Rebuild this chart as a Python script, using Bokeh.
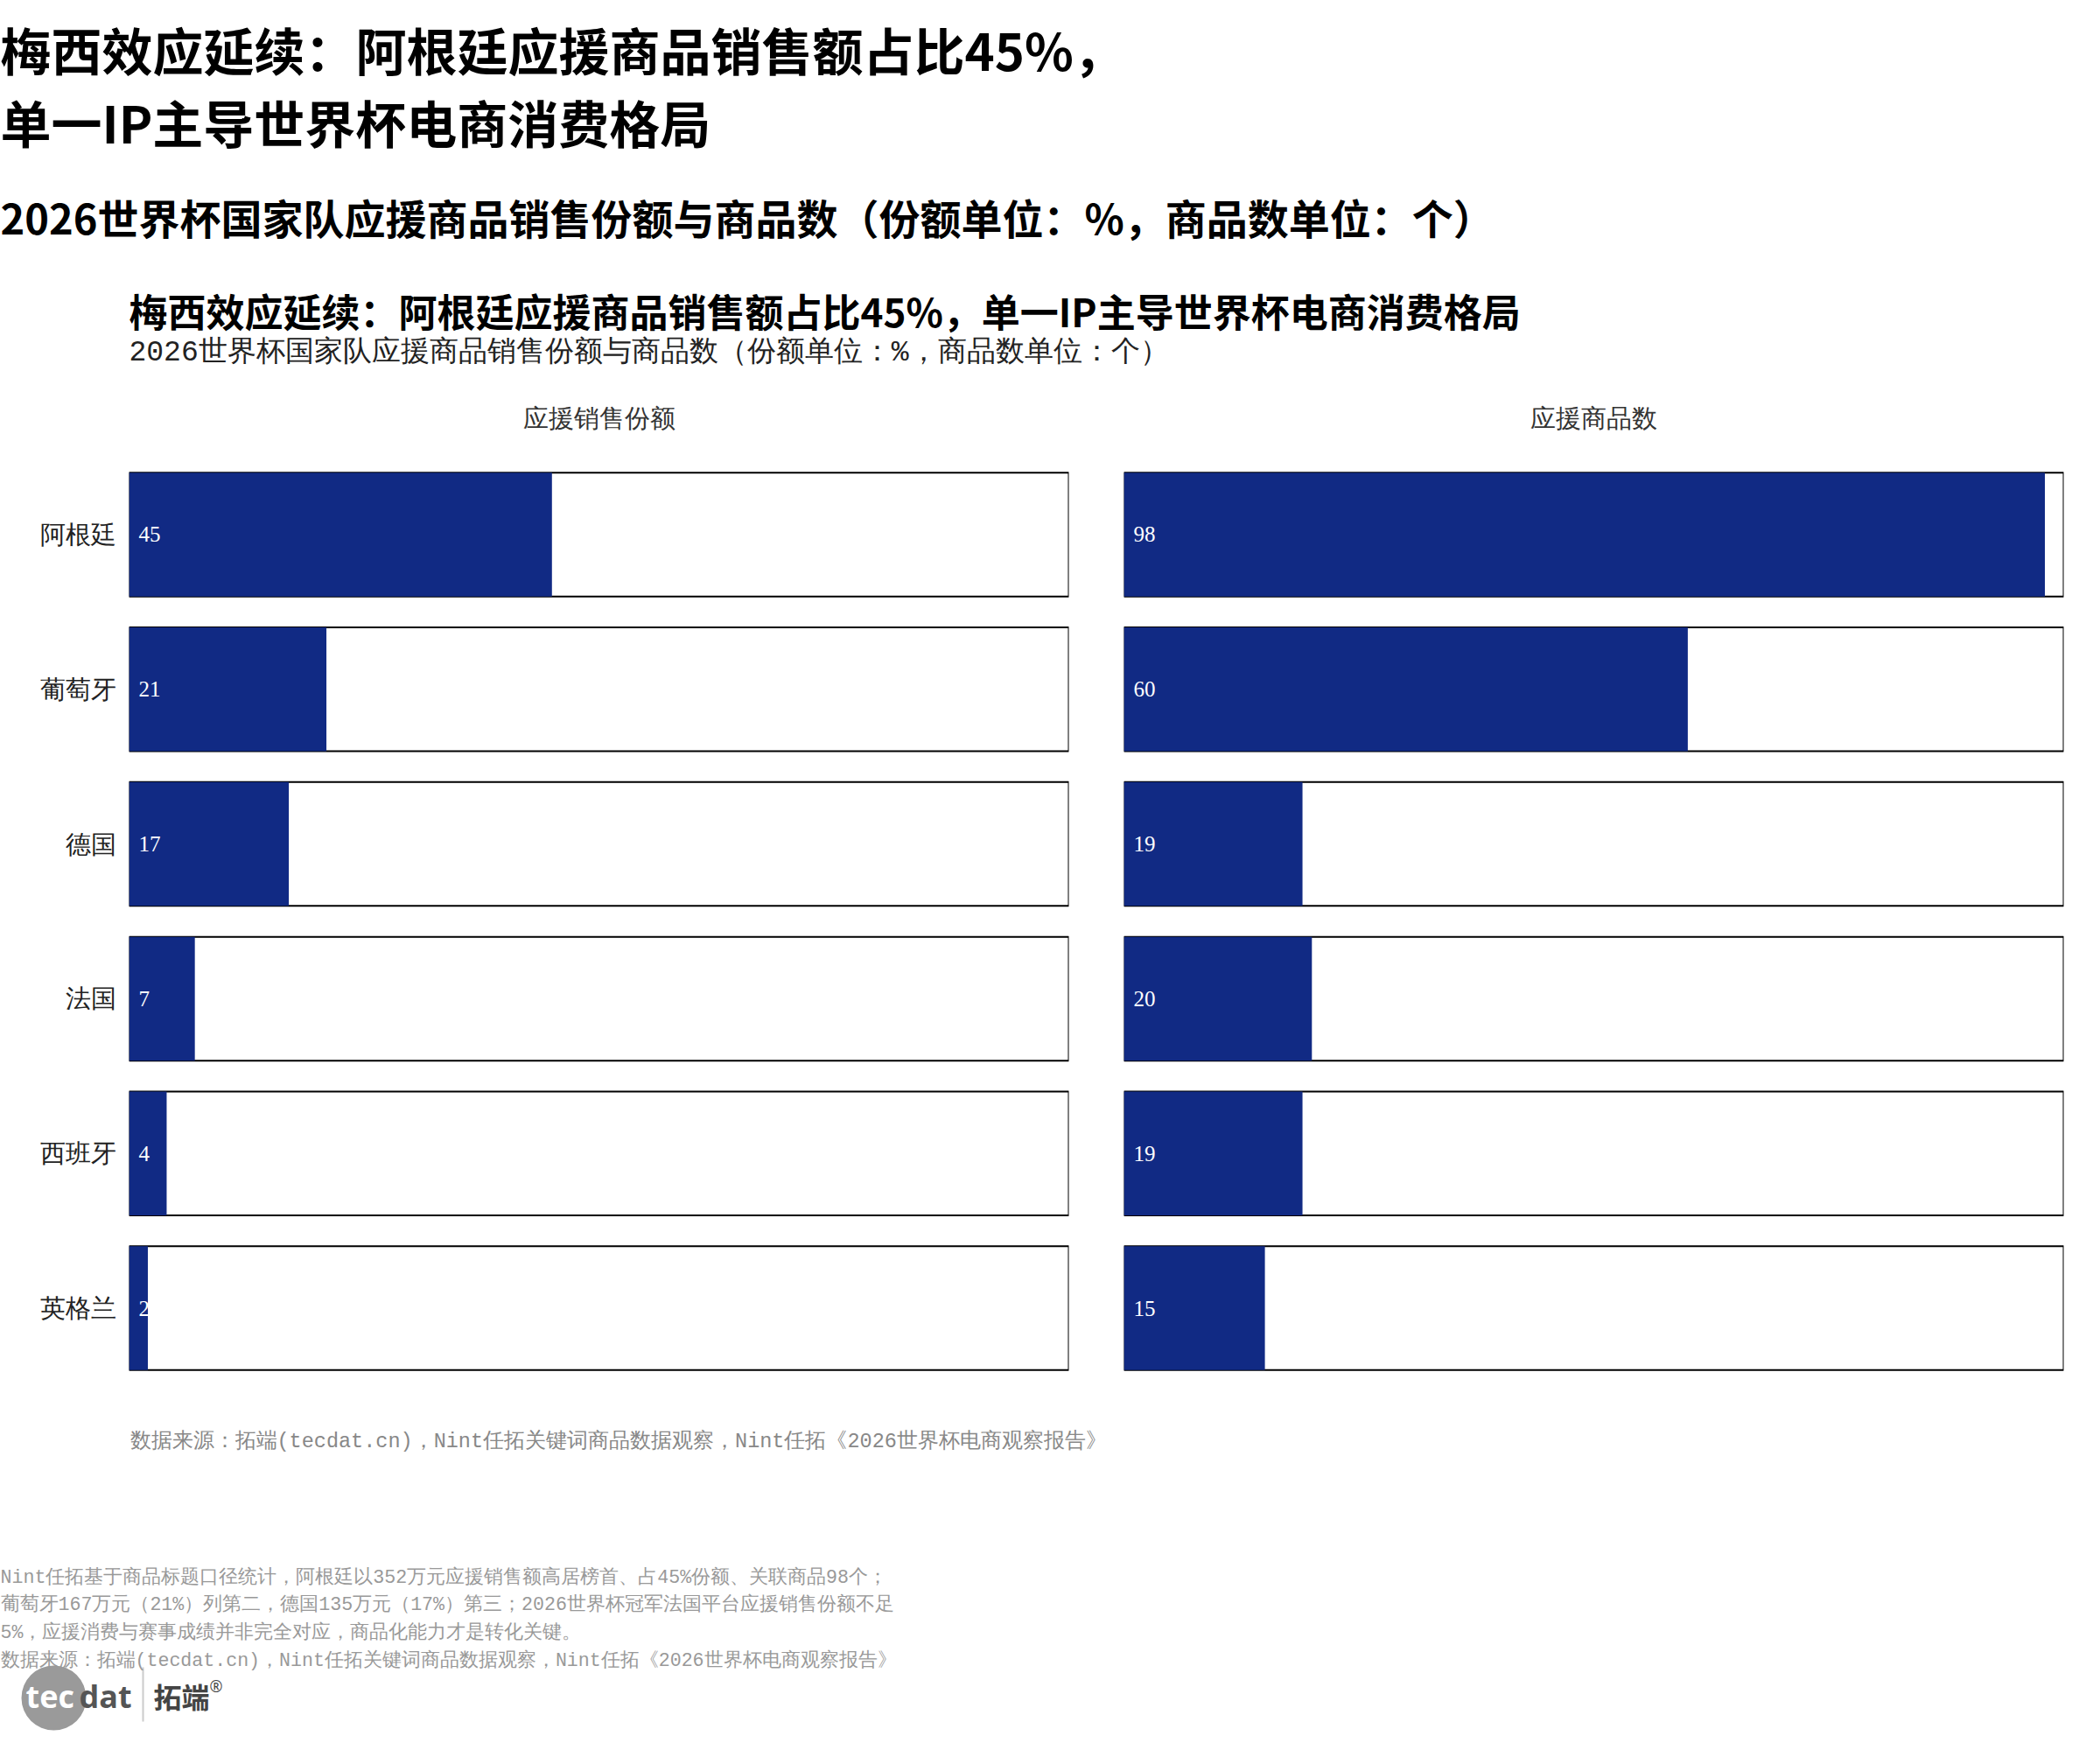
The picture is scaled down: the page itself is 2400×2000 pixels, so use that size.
from bokeh.plotting import figure
from bokeh.models import Range1d, FactorRange, Label, ColumnDataSource
from bokeh.layouts import column, row
from bokeh.embed import file_html
from bokeh.resources import INLINE
from bokeh.core.properties import value

# ---------------- data ----------------
countries = ["阿根廷", "葡萄牙", "德国", "法国", "西班牙", "英格兰"]
sales_share = [45, 21, 17, 7, 4, 2]
product_count = [98, 60, 19, 20, 19, 15]
share_max = 100
count_max = 100
panel_titles = ["应援销售份额", "应援商品数"]

title_lines = ["梅西效应延续：阿根廷应援商品销售额占比45%，", "单一IP主导世界杯电商消费格局"]
subtitle = "2026世界杯国家队应援商品销售份额与商品数（份额单位：%，商品数单位：个）"
chart_title = "梅西效应延续：阿根廷应援商品销售额占比45%，单一IP主导世界杯电商消费格局"
chart_subtitle = "2026世界杯国家队应援商品销售份额与商品数（份额单位：%，商品数单位：个）"
source_text = "数据来源：拓端(tecdat.cn)，Nint任拓关键词商品数据观察，Nint任拓《2026世界杯电商观察报告》"
notes = [
    "Nint任拓基于商品标题口径统计，阿根廷以352万元应援销售额高居榜首、占45%份额、关联商品98个；",
    "葡萄牙167万元（21%）列第二，德国135万元（17%）第三；2026世界杯冠军法国平台应援销售份额不足",
    "5%，应援消费与赛事成绩并非完全对应，商品化能力才是转化关键。",
    "数据来源：拓端(tecdat.cn)，Nint任拓关键词商品数据观察，Nint任拓《2026世界杯电商观察报告》",
]

BLUE = "#112A84"
SANS = "Noto Sans CJK SC"
SERIF = "Liberation Serif"
MONO = "Liberation Mono"

W = 2384
H_HEAD = 522
H_PANEL = 1061
H_FOOT = 1984 - H_HEAD - H_PANEL


def blank(width, height, y0, y1):
    p = figure(width=width, height=height, x_range=Range1d(0, width), y_range=Range1d(y1, y0),
               output_backend="svg", toolbar_location=None,
               x_axis_location=None, y_axis_location=None,
               min_border=0, min_border_left=0, min_border_right=0,
               min_border_top=0, min_border_bottom=0)
    p.outline_line_color = None
    p.xgrid.grid_line_color = None
    p.ygrid.grid_line_color = None
    p.background_fill_color = "white"
    p.border_fill_color = "white"
    return p


def add_label(p, x, y, text, size, color="#000000", font=SANS, style="normal", align="left"):
    p.add_layout(Label(x=x, y=y, text=text, text_font=font, text_font_size=f"{size}px",
                       text_font_style=style, text_color=color, text_align=align,
                       text_baseline="middle"))


# ---------------- header ----------------
head = blank(W, H_HEAD, 0, H_HEAD)
add_label(head, 0, 55, title_lines[0], 58, style="bold")
add_label(head, 0, 138, title_lines[1], 58, style="bold")
add_label(head, 0, 247, subtitle, 47, style="bold")
add_label(head, 147, 354, chart_title, 44, style="bold")
add_label(head, 147, 403, chart_subtitle, 33, color="#222222", font=MONO)
add_label(head, 684, 477, panel_titles[0], 29, color="#333333", font=SERIF, align="center")
add_label(head, 1821, 477, panel_titles[1], 29, color="#333333", font=SERIF, align="center")


# ---------------- panels ----------------
def panel(values, vmax, width, mbl, mbr, show_y):
    p = figure(width=width, height=H_PANEL, x_range=Range1d(0, vmax),
               y_range=FactorRange(factors=countries[::-1]),
               output_backend="svg", toolbar_location=None,
               x_axis_location=None, y_axis_location=("left" if show_y else None),
               min_border_left=mbl, min_border_right=mbr,
               min_border_top=0, min_border_bottom=0)
    p.outline_line_color = None
    p.xgrid.grid_line_color = None
    p.ygrid.grid_line_color = None
    src = ColumnDataSource(dict(country=countries, val=values,
                                vmax=[vmax] * len(countries),
                                label=[str(v) for v in values]))
    p.hbar(y="country", left=0, right="vmax", height=0.8, fill_color="white",
           line_color="black", line_width=2, source=src)
    p.hbar(y="country", left=0, right="val", height=0.8, fill_color=BLUE,
           line_color=None, source=src)
    p.text(x=0, y="country", text="label", x_offset=11, text_align="left",
           text_baseline="middle", text_color="white", text_font=value(SERIF),
           text_font_size="25px", source=src)
    if show_y:
        ax = p.yaxis[0]
        ax.axis_line_color = None
        ax.major_tick_line_color = None
        ax.minor_tick_line_color = None
        ax.major_tick_out = 0
        ax.major_tick_in = 0
        ax.major_label_standoff = 15
        ax.major_label_text_font = SERIF
        ax.major_label_text_font_size = "29px"
        ax.major_label_text_color = "#222222"
    return p


left = panel(sales_share, share_max, 1284, 147, 63, True)
right = panel(product_count, count_max, W - 1284, 0, W - 1284 - 1074, False)

# ---------------- footer ----------------
y0 = H_HEAD + H_PANEL
foot = blank(W, H_FOOT, y0, y0 + H_FOOT)
add_label(foot, 148, 1647, source_text, 23.5, color="#888888", font=MONO)
for i, line in enumerate(notes):
    add_label(foot, 0, 1802 + i * 31.7, line, 21.6, color="#999999", font=MONO)

# logo (decoration)
foot.rect(x=[145], y=[1945], width=240, height=88, fill_color="white", line_color=None)
foot.circle(x=[61], y=[1940], radius=37, fill_color="#9a9a9a", line_color=None)
add_label(foot, 29, 1938, "tec", 36, color="white", font="Open Sans", style="bold")
add_label(foot, 90, 1938, "dat", 36, color="#555555", font="Open Sans", style="bold")
foot.segment(x0=[163], y0=[1905], x1=[163], y1=[1967], line_color="#cccccc", line_width=2)
add_label(foot, 175, 1937, "拓端", 32, color="#444444", style="bold")
add_label(foot, 239, 1926, "®", 18, color="#444444", font="Open Sans")

layout = column(head, row(left, right), foot)
open("out.html", "w").write(file_html(layout, INLINE))
